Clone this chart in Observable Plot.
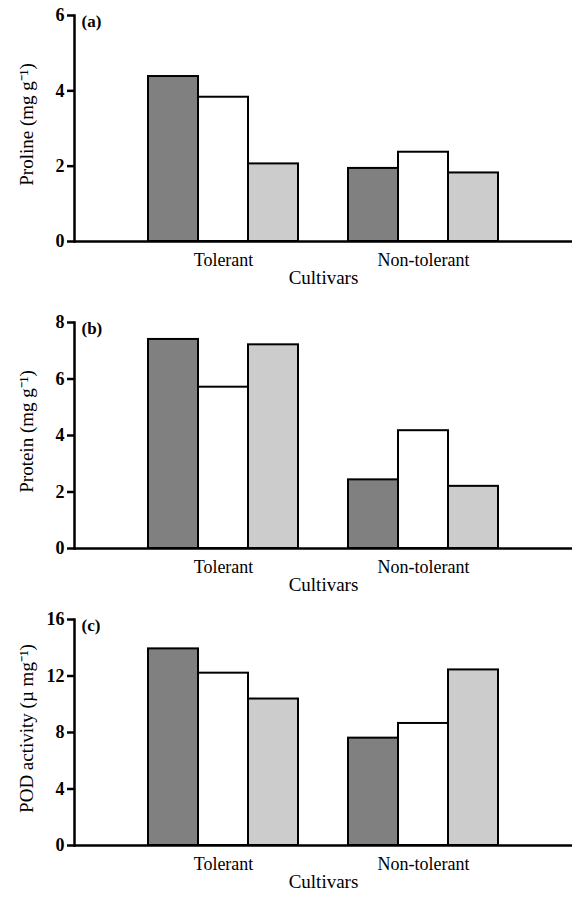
<!DOCTYPE html>
<html>
<head>
<meta charset="utf-8">
<script src="https://cdn.jsdelivr.net/npm/d3@7"></script>
<script src="https://cdn.jsdelivr.net/npm/@observablehq/plot@0.6"></script>
<style>
  body { margin: 0; background: #fff; }
  #wrap { position: relative; width: 576px; height: 897px; overflow: hidden; }
  #wrap > div, #wrap > svg { position: absolute; left: 0; }
  #wrap svg text { font-family: "Liberation Serif", "Times New Roman", serif !important; }
</style>
</head>
<body>
<div id="wrap"></div>
<script>
// ---- data ----
const cultivars = ["Tolerant", "Non-tolerant"];
const treatments = ["T1", "T2", "T3"];
const fills = ["#808080", "#ffffff", "#cccccc"];

const prolineTolerant = [4.38, 3.83, 2.06];
const prolineNonTolerant = [1.94, 2.37, 1.82];
const proteinTolerant = [7.40, 5.71, 7.21];
const proteinNonTolerant = [2.43, 4.17, 2.20];
const podTolerant = [13.92, 12.2, 10.37];
const podNonTolerant = [7.6, 8.64, 12.43];

const panels = [
  {tag: "(a)", label: "Proline (mg g\u207B\u00B9)", max: 6, ticks: [0, 2, 4, 6], tol: prolineTolerant, non: prolineNonTolerant, top: 0},
  {tag: "(b)", label: "Protein (mg g\u207B\u00B9)", max: 8, ticks: [0, 2, 4, 6, 8], tol: proteinTolerant, non: proteinNonTolerant, top: 307},
  {tag: "(c)", label: "POD activity (\u00B5 mg\u207B\u00B9)", max: 16, ticks: [0, 4, 8, 12, 16], tol: podTolerant, non: podNonTolerant, top: 604}
];

// band domain: three bars per cultivar with a gap between groups
const xDomain = [
  ...treatments.map(t => cultivars[0] + "|" + t),
  "gap",
  ...treatments.map(t => cultivars[1] + "|" + t)
];
const tickKeys = cultivars.map(c => c + "|T2");
const wrap = document.getElementById("wrap");

panels.forEach((p) => {
  const rows = [];
  treatments.forEach((t, i) => rows.push({key: cultivars[0] + "|" + t, treatment: t, value: p.tol[i]}));
  treatments.forEach((t, i) => rows.push({key: cultivars[1] + "|" + t, treatment: t, value: p.non[i]}));

  const chart = Plot.plot({
    width: 576, height: 293,
    marginLeft: 74, marginRight: 4, marginTop: 15, marginBottom: 52,
    style: {fontSize: "18px", color: "#000", background: "#fff"},
    x: {domain: xDomain, paddingInner: 0, paddingOuter: 1.476, axis: null},
    y: {domain: [0, p.max], axis: null},
    color: {domain: treatments, range: fills},
    marks: [
      Plot.barY(rows, {x: "key", y: "value", fill: "treatment", stroke: "#000", strokeWidth: 2, inset: 0}),
      Plot.frame({anchor: "left", stroke: "#000", strokeWidth: 2.5}),
      Plot.axisY({ticks: p.ticks, tickSize: 7, tickPadding: 3, tickFormat: d => String(d), fontWeight: "bold", fontSize: 18, strokeWidth: 2.5, label: null}),
      Plot.ruleY([0], {stroke: "#000", strokeWidth: 2.5}),
      Plot.axisX({ticks: tickKeys, tickSize: 0, tickPadding: 12, tickFormat: d => d.split("|")[0], fontSize: 18, label: null}),
      Plot.text([p.label], {frameAnchor: "left", rotate: -90, dx: -48, dy: -4, fontSize: 19, textAnchor: "middle"}),
      Plot.text(["Cultivars"], {frameAnchor: "bottom", dy: 42, fontSize: 19}),
      Plot.text([p.tag], {frameAnchor: "top-left", dx: 7, dy: -1, fontSize: 17, fontWeight: "bold", textAnchor: "start", lineAnchor: "top"})
    ]
  });
  chart.style.top = p.top + "px";
  wrap.appendChild(chart);
});
</script>
</body>
</html>
